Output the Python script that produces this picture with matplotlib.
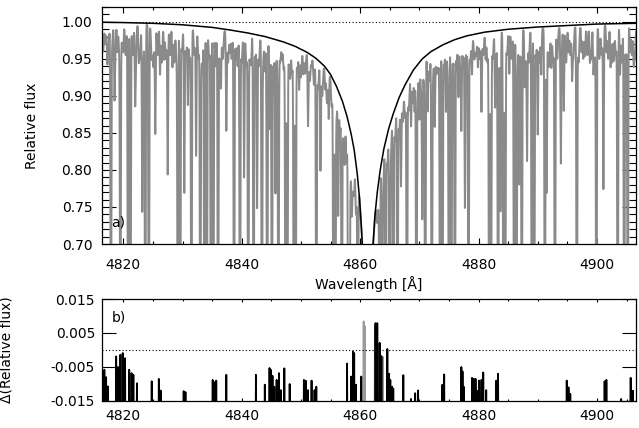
import numpy as np
import matplotlib.pyplot as plt

# smooth H-beta profile (black curve)
prof_wave = [4816.4, 4820.0, 4825.0, 4830.0, 4835.0, 4838.0, 4841.0, 4844.0, 4847.0,
             4849.0, 4851.0, 4852.5, 4854.0, 4855.0, 4856.0, 4857.0, 4857.8, 4858.5,
             4859.0, 4859.5, 4859.9, 4860.2, 4860.4, 4860.8, 4861.3, 4861.8, 4862.2,
             4862.5, 4862.9, 4863.4, 4864.0, 4864.8, 4865.6, 4866.6, 4867.6, 4869.0,
             4870.5, 4872.0, 4874.0, 4876.0, 4878.0, 4881.0, 4885.0, 4890.0, 4895.0,
             4900.0, 4906.6]
prof_flux = [0.9995, 0.999, 0.998, 0.996, 0.9925, 0.989, 0.985, 0.980, 0.973,
             0.967, 0.959, 0.951, 0.940, 0.929, 0.913, 0.893, 0.872, 0.848,
             0.827, 0.796, 0.762, 0.725, 0.695, 0.630, 0.580, 0.630, 0.700,
             0.738, 0.770, 0.800, 0.828, 0.855, 0.876, 0.898, 0.915, 0.935,
             0.950, 0.960, 0.969, 0.976, 0.981, 0.986, 0.990, 0.993, 0.995,
             0.997, 0.998]

# saturated metal lines (cores fall below the plotted range)
deep_wave = [4817.9, 4819.5, 4820.8, 4821.2, 4823.7, 4824.3, 4829.2, 4829.6, 4831.5,
             4833.0, 4833.7, 4834.1, 4834.8, 4835.2, 4836.0, 4838.7, 4839.7, 4841.1,
             4842.0, 4843.4, 4844.3, 4845.1, 4846.2, 4847.4, 4847.7, 4848.8, 4849.1,
             4852.6, 4855.5, 4855.8, 4856.9, 4858.0, 4858.2, 4859.6, 4863.3, 4863.7,
             4864.3, 4865.0, 4865.6, 4866.3, 4867.9, 4869.5, 4871.0, 4872.1, 4873.5,
             4873.9, 4875.0, 4875.4, 4876.0, 4878.3, 4881.8, 4882.1, 4883.3, 4884.2,
             4884.5, 4886.0, 4886.4, 4887.3, 4889.0, 4889.4, 4891.2, 4892.9, 4896.6,
             4899.9, 4903.5, 4904.6, 4905.2]
deep_flux = [0.45] * len(deep_wave)

# medium-strength lines: centre and core flux
mid_wave = [4817.3, 4818.5, 4819.0, 4820.0, 4822.0, 4822.6, 4823.2, 4825.4, 4826.2,
            4826.9, 4827.5, 4828.3, 4830.3, 4830.9, 4832.3, 4833.4, 4836.5, 4837.4,
            4838.0, 4839.0, 4840.4, 4841.6, 4842.6, 4843.9, 4844.7, 4845.7, 4846.8,
            4848.2, 4849.7, 4850.4, 4851.2, 4851.8, 4853.3, 4854.1, 4854.7, 4856.3,
            4857.4, 4858.6, 4859.0, 4864.9, 4866.9, 4868.6, 4869.2, 4870.0, 4870.5,
            4871.4, 4872.6, 4874.5, 4876.6, 4877.1, 4877.7, 4878.9, 4879.9, 4880.5,
            4881.2, 4882.8, 4883.7, 4885.2, 4886.9, 4887.8, 4888.2, 4890.0, 4890.6,
            4891.5, 4892.3, 4893.9, 4894.4, 4895.2, 4895.8, 4897.4, 4898.0, 4898.8,
            4899.4, 4901.1, 4901.6, 4902.3, 4902.9, 4903.9, 4905.6, 4906.2]
mid_flux = [0.95, 0.925, 0.96, 0.965, 0.92, 0.955, 0.75, 0.85, 0.93,
            0.95, 0.795, 0.94, 0.77, 0.89, 0.82, 0.94, 0.92, 0.854,
            0.96, 0.95, 0.79, 0.95, 0.75, 0.935, 0.86, 0.77, 0.95,
            0.93, 0.91, 0.93, 0.86, 0.94, 0.80, 0.91, 0.87, 0.74,
            0.82, 0.76, 0.78, 0.80, 0.78, 0.86, 0.88, 0.87, 0.74,
            0.88, 0.86, 0.88, 0.90, 0.86, 0.75, 0.93, 0.94, 0.88,
            0.95, 0.89, 0.75, 0.93, 0.80, 0.92, 0.82, 0.85, 0.93,
            0.77, 0.94, 0.83, 0.88, 0.96, 0.93, 0.96, 0.955, 0.955,
            0.94, 0.775, 0.96, 0.94, 0.95, 0.93, 0.96, 0.95]

# weak blends that make up the ragged pseudo-continuum
weak_wave = [4816.6, 4817.0, 4817.5, 4818.1, 4818.6, 4819.3, 4819.8, 4820.4, 4821.6,
             4822.1, 4822.8, 4823.4, 4824.8, 4825.1, 4825.8, 4826.5, 4827.2, 4827.9,
             4828.6, 4829.0, 4829.9, 4830.6, 4831.2, 4832.0, 4832.7, 4833.2, 4834.5,
             4835.6, 4836.3, 4836.8, 4837.7, 4838.3, 4839.3, 4840.0, 4840.8, 4841.4,
             4842.3, 4842.9, 4843.6, 4844.2, 4844.9, 4845.4, 4846.0, 4846.5, 4847.1,
             4848.0, 4848.5, 4849.4, 4850.0, 4850.7, 4851.5, 4852.2, 4852.9, 4853.6,
             4854.4, 4855.2, 4856.0, 4856.6, 4857.2, 4857.7, 4858.4, 4858.8, 4859.3,
             4862.9, 4863.2, 4863.9, 4864.6, 4865.2, 4865.9, 4866.6, 4867.2, 4867.6,
             4868.2, 4868.9, 4869.7, 4870.3, 4870.8, 4871.7, 4872.3, 4872.9, 4873.2,
             4874.2, 4874.8, 4875.7, 4876.3, 4876.9, 4877.4, 4878.0, 4878.6, 4879.3,
             4879.6, 4880.2, 4880.8, 4881.5, 4882.4, 4883.0, 4883.5, 4884.8, 4885.6,
             4886.6, 4887.0, 4888.0, 4888.5, 4889.7, 4890.3, 4891.8, 4892.0, 4892.6,
             4893.3, 4894.0, 4894.8, 4895.5, 4896.0, 4896.9, 4897.7, 4898.4, 4899.0,
             4899.6, 4900.4, 4900.8, 4901.9, 4902.6, 4903.2, 4904.2, 4904.9, 4905.9,
             4906.4]
weak_flux = [0.96, 0.97, 0.965, 0.97, 0.95, 0.965, 0.97, 0.955, 0.955,
             0.945, 0.95, 0.955, 0.95, 0.94, 0.955, 0.945, 0.95, 0.955,
             0.945, 0.95, 0.96, 0.95, 0.945, 0.955, 0.95, 0.945, 0.95,
             0.94, 0.945, 0.95, 0.945, 0.95, 0.94, 0.945, 0.94, 0.945,
             0.95, 0.94, 0.945, 0.94, 0.95, 0.935, 0.94, 0.945, 0.935,
             0.94, 0.93, 0.935, 0.925, 0.93, 0.92, 0.915, 0.91, 0.90,
             0.89, 0.885, 0.87, 0.85, 0.83, 0.81, 0.79, 0.77, 0.74,
             0.73, 0.75, 0.78, 0.805, 0.82, 0.84, 0.85, 0.865, 0.87,
             0.88, 0.89, 0.90, 0.91, 0.915, 0.92, 0.925, 0.93, 0.935,
             0.94, 0.935, 0.94, 0.945, 0.94, 0.945, 0.95, 0.945, 0.95,
             0.955, 0.95, 0.955, 0.945, 0.95, 0.955, 0.95, 0.955, 0.95,
             0.945, 0.955, 0.95, 0.945, 0.95, 0.945, 0.95, 0.955, 0.945,
             0.95, 0.955, 0.945, 0.955, 0.95, 0.945, 0.95, 0.955, 0.95,
             0.945, 0.95, 0.955, 0.95, 0.945, 0.955, 0.945, 0.95, 0.955,
             0.95]

# residuals: spike centre and peak value
res_wave = [4816.8, 4817.1, 4817.4, 4818.8, 4819.1, 4819.5, 4819.9, 4820.3, 4821.0,
            4821.4, 4821.7, 4822.3, 4824.8, 4826.0, 4826.3, 4830.2, 4830.5, 4835.1,
            4835.4, 4835.7, 4837.4, 4842.4, 4843.9, 4844.7, 4844.9, 4845.2, 4845.5,
            4845.9, 4846.3, 4846.6, 4847.2, 4848.1, 4850.5, 4850.8, 4851.2, 4851.8,
            4852.3, 4852.6, 4857.8, 4858.5, 4858.8, 4859.0, 4859.3, 4860.2, 4862.6,
            4862.9, 4863.3, 4863.6, 4864.6, 4864.9, 4865.1, 4865.4, 4865.6, 4867.3,
            4868.6, 4869.3, 4869.8, 4873.9, 4874.2, 4877.1, 4877.3, 4877.5, 4878.9,
            4879.2, 4879.5, 4879.8, 4880.1, 4880.5, 4880.8, 4881.3, 4883.0, 4883.3,
            4894.9, 4895.2, 4895.5, 4901.3, 4901.6, 4904.1, 4905.7, 4906.1]
res_peak = [-0.0058, -0.0080, -0.0107, -0.0019, -0.0050, -0.0014, -0.0009, -0.0024, -0.0058,
            -0.0068, -0.0073, -0.0098, -0.0092, -0.0085, -0.0119, -0.0121, -0.0124, -0.0088,
            -0.0095, -0.0090, -0.0073, -0.0073, -0.0102, -0.0053, -0.0058, -0.0076, -0.0108,
            -0.0088, -0.0068, -0.0118, -0.0054, -0.0100, -0.0088, -0.0090, -0.0118, -0.0090,
            -0.0118, -0.0108, -0.0040, -0.0078, -0.0005, -0.0009, -0.0102, -0.0078, 0.0079,
            0.0079, 0.0021, -0.0018, 0.0003, -0.0070, -0.0088, -0.0108, -0.0113, -0.0074,
            -0.0144, -0.0127, -0.0119, -0.0102, -0.0072, -0.0050, -0.0063, -0.0108, -0.0082,
            -0.0085, -0.0085, -0.0120, -0.0090, -0.0088, -0.0066, -0.0118, -0.0090, -0.0070,
            -0.0090, -0.0110, -0.0129, -0.0092, -0.0088, -0.0144, -0.0082, -0.0120]
res_gray_wave = [4860.6, 4860.8, 4862.5, 4863.8]
res_gray_peak = [0.0084, 0.0070, 0.0072, -0.0020]

x_min, x_max = 4816.4, 4906.6
cont = 0.998
wave = np.arange(x_min, x_max, 0.01)
prof = np.interp(wave, prof_wave, prof_flux)
spec = cont * prof


def absorb(spec, centres, fluxes, sigma):
    for c, f in zip(centres, fluxes):
        base = cont * np.interp(c, prof_wave, prof_flux)
        a = max(0.0, 1.0 - f / base)
        spec = spec * (1.0 - a * np.exp(-((wave - c) / sigma) ** 2))
    return spec


spec = absorb(spec, weak_wave, weak_flux, 0.16)
spec = absorb(spec, mid_wave, mid_flux, 0.10)
spec = absorb(spec, deep_wave, deep_flux, 0.10)


def spikes(centres, peaks, half=0.07, floor=-0.03):
    xs, ys = [], []
    for c, p in sorted(zip(centres, peaks)):
        xs += [c - half, c, c + half]
        ys += [floor, p, floor]
    return xs, ys


def style_axes(ax, ymajor, yminor, ylen):
    ax.set_xlim(x_min, x_max)
    ax.set_xticks([4820, 4840, 4860, 4880, 4900])
    ax.set_xticks(np.arange(4820, 4906, 5), minor=True)
    ax.set_yticks(ymajor)
    if yminor is not None:
        ax.set_yticks(yminor, minor=True)
    ax.tick_params(which='both', direction='in', top=True, right=True,
                   labelsize=10, width=0.8)
    ax.tick_params(axis='y', which='major', length=ylen[0])
    ax.tick_params(axis='y', which='minor', length=ylen[1])
    for sp in ax.spines.values():
        sp.set_linewidth(0.9)


fig = plt.figure(figsize=(6.39, 4.28), dpi=100)
ax1 = fig.add_axes([0.1596, 0.4299, 0.8357, 0.5537])
ax2 = fig.add_axes([0.1596, 0.0631, 0.8357, 0.2383])

ax1.plot(wave, spec, color='#8a8a8a', lw=1.4)
ax1.plot(prof_wave, prof_flux, color='black', lw=1.1)
ax1.axhline(1.0, color='black', lw=0.8, ls=(0, (1, 2)))
ax1.set_ylim(0.70, 1.02)
style_axes(ax1, np.arange(0.70, 1.001, 0.05), np.arange(0.70, 1.02, 0.01), (10, 5))
ax1.tick_params(axis='x', which='major', length=4.5, pad=10)
ax1.tick_params(axis='x', which='minor', length=2.5)
ax1.tick_params(axis='y', pad=7)
ax1.yaxis.set_major_formatter(plt.FormatStrFormatter('%.2f'))
ax1.set_xlabel('Wavelength [Å]', fontsize=10, labelpad=3)
ax1.set_ylabel('Relative flux', fontsize=10)
ax1.yaxis.set_label_coords(-0.118, 0.5)
ax1.text(0.018, 0.075, 'a)', transform=ax1.transAxes, fontsize=10)

gx, gy = spikes(res_gray_wave, res_gray_peak)
bx, by = spikes(res_wave, res_peak)
ax2.plot(gx, gy, color='#9a9a9a', lw=1.3)
ax2.plot(bx, by, color='black', lw=1.3)
ax2.axhline(0.0, color='black', lw=0.8, ls=(0, (1, 2)))
ax2.set_ylim(-0.015, 0.015)
style_axes(ax2, [-0.015, -0.005, 0.005, 0.015], None, (10, 5))
ax2.tick_params(axis='x', which='major', length=2.5, pad=6)
ax2.tick_params(axis='x', which='minor', length=1.5)
ax2.tick_params(axis='y', pad=5)
ax2.yaxis.set_major_formatter(plt.FormatStrFormatter('%.3f'))
ax2.set_ylabel('Δ(Relative flux)', fontsize=10)
ax2.yaxis.set_label_coords(-0.165, 0.5)
ax2.text(0.018, 0.78, 'b)', transform=ax2.transAxes, fontsize=10)

fig.savefig('out.png', dpi=100)
